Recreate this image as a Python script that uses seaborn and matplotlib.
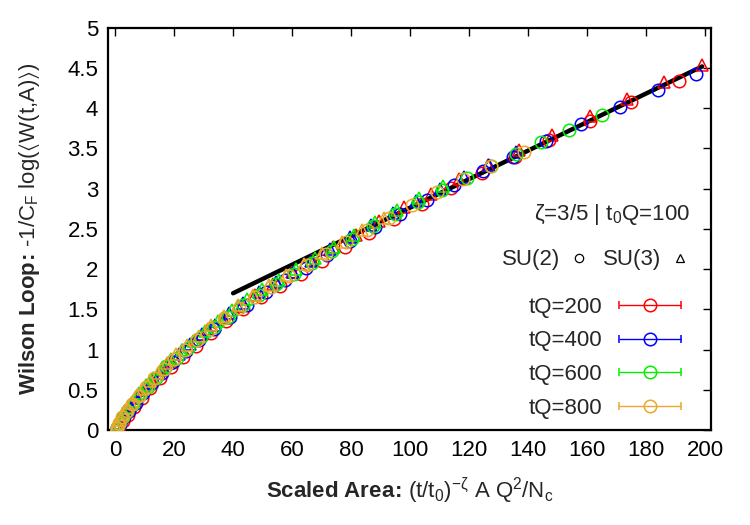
import numpy as np
import pandas as pd
import seaborn as sns
from matplotlib import pyplot as plt
from matplotlib.container import ErrorbarContainer
from matplotlib.legend_handler import HandlerErrorbar

# Data (scaled area vs. -1/C_F log<W>)
# SU(2) -> circles, SU(3) -> triangles, one colour per tQ
su2_200_x = [0.5, 1.4, 2.7, 4.4, 6.5, 9, 11.9, 15.2, 18.9, 23, 27.5, 32.4, 37.7, 43.4, 49.5, 56, 62.9, 70.2,
             77.9, 86, 94.5, 104, 114, 124.5, 135.5, 147, 161, 175, 191]
su2_200_y = [0.01, 0.04, 0.11, 0.19, 0.29, 0.40, 0.52, 0.65, 0.78, 0.91, 1.05, 1.20, 1.35, 1.50, 1.65, 1.79,
             1.94, 2.10, 2.27, 2.45, 2.62, 2.81, 3.01, 3.20, 3.40, 3.60, 3.84, 4.08, 4.34]
su3_200_x = [0.4, 1.1, 2.1, 3.5, 5.2, 7.3, 9.7, 12.4, 15.5, 19, 22.8, 27, 31.5, 36.5, 41.8, 47.5, 53.5, 60,
             66.8, 74, 81.6, 89.6, 98, 107, 116.5, 126.5, 137, 148, 161, 173.5, 186, 199]
su3_200_y = [0.04, 0.09, 0.15, 0.23, 0.31, 0.42, 0.52, 0.62, 0.74, 0.86, 0.99, 1.12, 1.25, 1.39, 1.54, 1.68,
             1.82, 1.96, 2.11, 2.27, 2.43, 2.60, 2.77, 2.94, 3.12, 3.30, 3.48, 3.67, 3.90, 4.12, 4.33, 4.54]

su2_400_x = [0.6, 1.6, 3, 4.8, 7, 9.6, 12.6, 16, 19.8, 24, 28.6, 33.6, 39, 44.8, 51, 57.6, 64.6, 72, 79.8,
             88, 96.6, 105.6, 115, 124.8, 135, 146, 158, 171, 184, 197]
su2_400_y = [0.02, 0.08, 0.16, 0.24, 0.34, 0.46, 0.58, 0.71, 0.84, 0.98, 1.12, 1.26, 1.41, 1.56, 1.71, 1.86,
             2.01, 2.17, 2.35, 2.52, 2.69, 2.86, 3.04, 3.22, 3.40, 3.59, 3.80, 4.02, 4.23, 4.43]
su3_400_x = [0.4, 1.1, 2.1, 3.4, 5, 7, 9.3, 11.9, 14.8, 18, 21.5, 25.3, 29.4, 33.8, 38.5, 43.5, 48.8, 54.4,
             60.3, 66.5, 73, 79.8, 86.9, 94.3, 102, 110, 118.3, 126.9, 135.8]
su3_400_y = [0.04, 0.09, 0.15, 0.23, 0.30, 0.40, 0.50, 0.60, 0.71, 0.83, 0.95, 1.07, 1.19, 1.31, 1.45, 1.58,
             1.72, 1.84, 1.97, 2.10, 2.25, 2.40, 2.55, 2.70, 2.85, 2.99, 3.15, 3.30, 3.46]

su2_600_x = [0.5, 1.4, 2.6, 4.2, 6.1, 8.4, 11, 14, 17.3, 20.9, 24.8, 29, 33.5, 38.3, 43.4, 48.8, 54.5, 60.5,
             66.8, 73.4, 80.3, 87.5, 95, 102.8, 110.9, 119.3, 127.5, 135.8, 144.5, 154, 165]
su2_600_y = [0.03, 0.08, 0.16, 0.23, 0.32, 0.43, 0.54, 0.65, 0.79, 0.90, 1.02, 1.15, 1.28, 1.41, 1.55, 1.68,
             1.81, 1.94, 2.08, 2.22, 2.38, 2.53, 2.68, 2.83, 2.98, 3.13, 3.28, 3.43, 3.58, 3.73, 3.91]
su3_600_x = [0.3, 0.9, 1.8, 3, 4.4, 6.1, 8.1, 10.4, 13, 15.9, 19.1, 22.6, 26.4, 30.5, 34.9, 39.6, 44.6, 49.9,
             55.5, 61.4, 67.6, 74.1, 80.9, 88, 95.4, 103.1, 111.1]
su3_600_y = [0.04, 0.09, 0.15, 0.22, 0.29, 0.36, 0.46, 0.56, 0.65, 0.76, 0.88, 0.99, 1.11, 1.23, 1.35, 1.49,
             1.63, 1.75, 1.87, 2.00, 2.14, 2.28, 2.43, 2.58, 2.73, 2.88, 3.03]

su2_800_x = [0.5, 1.3, 2.5, 4, 5.8, 8, 10.5, 13.3, 16.5, 20, 23.8, 27.9, 32.3, 37, 42, 47.3, 52.9, 58.8, 65,
             71.5, 78.3, 85.4, 92.8, 100.5, 109, 117.8, 127.5, 138.5]
su2_800_y = [0.03, 0.09, 0.16, 0.23, 0.32, 0.42, 0.53, 0.64, 0.76, 0.88, 1.00, 1.12, 1.25, 1.39, 1.52, 1.65,
             1.78, 1.91, 2.05, 2.19, 2.34, 2.49, 2.64, 2.80, 2.96, 3.12, 3.28, 3.46]
su3_800_x = [0.3, 0.8, 1.6, 2.7, 4, 5.5, 7.3, 9.4, 11.8, 14.5, 17.5, 20.8, 24.4, 28.3, 32.5, 37, 41.8, 46.9,
             52.3, 58, 64, 70.3, 76.9, 83.8, 91]
su3_800_y = [0.04, 0.08, 0.13, 0.20, 0.27, 0.34, 0.43, 0.51, 0.61, 0.71, 0.83, 0.94, 1.06, 1.17, 1.30, 1.42,
             1.55, 1.68, 1.80, 1.93, 2.06, 2.20, 2.34, 2.49, 2.64]

# straight reference line
fit_x = [40, 199]
fit_y = [1.70, 4.52]

tq_labels = ["tQ=200", "tQ=400", "tQ=600", "tQ=800"]
colors = ["#ff0000", "#0000ff", "#00f000", "#eaa82c"]

series = [
    (su2_200_x, su2_200_y, su3_200_x, su3_200_y),
    (su2_400_x, su2_400_y, su3_400_x, su3_400_y),
    (su2_600_x, su2_600_y, su3_600_x, su3_600_y),
    (su2_800_x, su2_800_y, su3_800_x, su3_800_y),
]

sns.set_style("white")
plt.rcParams['font.family'] = ['Liberation Sans', 'DejaVu Sans']
plt.rcParams['mathtext.fontset'] = 'custom'
plt.rcParams['mathtext.rm'] = 'Liberation Sans'
plt.rcParams['mathtext.it'] = 'Liberation Sans'
plt.rcParams['mathtext.bf'] = 'Liberation Sans:bold'
plt.rcParams['mathtext.fallback'] = 'stixsans'

FS = 16

fig = plt.figure(figsize=(7.5, 5.25), dpi=100)
ax = fig.add_axes([0.144, 0.181, 0.804, 0.766])

sns.lineplot(x=fit_x, y=fit_y, color="black", lw=3.2, ax=ax, zorder=2)

for (x2, y2, x3, y3), c in zip(series, colors):
    sns.lineplot(x=x2, y=y2, estimator=None, sort=False, ax=ax, linestyle="none", marker="o",
                 markersize=9, markerfacecolor="none", markeredgecolor=c, markeredgewidth=1.1, zorder=3)
    sns.lineplot(x=x3, y=y3, estimator=None, sort=False, ax=ax, linestyle="none", marker="^",
                 markersize=8, markerfacecolor="none", markeredgecolor=c, markeredgewidth=1.1, zorder=3)

ax.set_xlim(-2.4, 202)
ax.set_ylim(0, 5)
ax.set_xticks(range(0, 201, 20))
ax.set_yticks([0, 0.5, 1, 1.5, 2, 2.5, 3, 3.5, 4, 4.5, 5])
ax.set_yticklabels(["0", "0.5", "1", "1.5", "2", "2.5", "3", "3.5", "4", "4.5", "5"])
ax.tick_params(direction="in", length=6, width=1, labelsize=FS, top=True, right=True,
               colors="black", pad=7)
for s in ax.spines.values():
    s.set_linewidth(1.6)
    s.set_color("black")

ax.set_xlabel(r"$\mathbf{Scaled\ Area\!:\!}$ (t/t$_0$)$^{-\zeta}$ A Q$^2$/N$_\mathrm{c}$", fontsize=FS,
              labelpad=11)
ax.set_ylabel(r"$\mathbf{Wilson\ Loop\!:\!}$ -1/C$_\mathrm{F}$ log($\langle$W(t,A)$\rangle$)", fontsize=FS,
              labelpad=18)

# legend for tQ values
handles = []
for c in colors:
    h = ax.errorbar([np.nan], [np.nan], xerr=[1], fmt="o", color=c, mfc="none", mec=c,
                    ms=9, mew=1.1, capsize=3, elinewidth=1)
    handles.append(h)
leg = ax.legend(handles, tq_labels, loc="lower right", bbox_to_anchor=(0.985, -0.022),
                frameon=False, markerfirst=False, fontsize=FS, handlelength=2.9,
                labelspacing=0.57, handletextpad=0.7,
                handler_map={ErrorbarContainer: HandlerErrorbar(xerr_size=1.4)})
ax.add_artist(leg)

# SU(N) marker key
h2 = plt.Line2D([], [], ls="none", marker="o", ms=6, mfc="none", mec="black", mew=0.9)
h3 = plt.Line2D([], [], ls="none", marker="^", ms=6, mfc="none", mec="black", mew=0.9)
ax.legend([h2, h3], ["SU(2)", "SU(3)"], loc="center right", bbox_to_anchor=(1.0, 0.423),
          ncol=2, frameon=False, markerfirst=False, fontsize=FS, handlelength=1.0,
          columnspacing=0.55, handletextpad=0.35)

ax.text(0.965, 0.535, r"ζ=3/5 | t$_0$Q=100", transform=ax.transAxes, ha="right", va="center",
        fontsize=FS)

fig.savefig("out.png", dpi=100)
